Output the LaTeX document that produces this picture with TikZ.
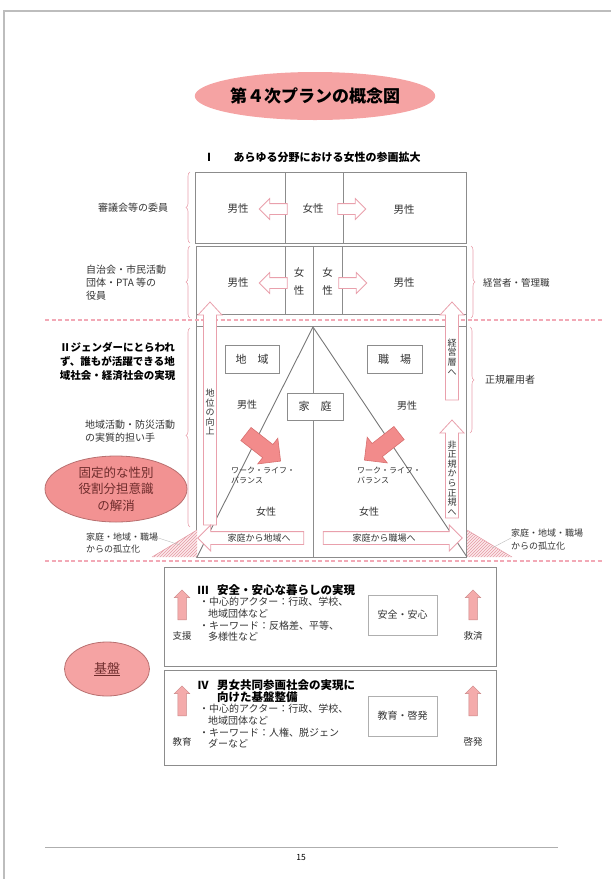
\documentclass[tikz,border=0pt]{standalone}
\usepackage{fontspec}
\setmainfont{Noto Sans CJK JP}
\usetikzlibrary{shapes.geometric,shapes.arrows,decorations.pathreplacing,patterns}
\definecolor{framegray}{HTML}{8C8C8C}
\definecolor{pagegray}{HTML}{BDBDBD}
\definecolor{pinkline}{HTML}{E9A0AC}
\definecolor{dashpink}{HTML}{F2A9B6}
\definecolor{bigpink}{HTML}{F28B8B}
\definecolor{bigedge}{HTML}{D87070}
\definecolor{titlepink}{HTML}{F5A3A3}
\definecolor{ellpink}{HTML}{F29292}
\definecolor{elledge}{HTML}{B87070}
\definecolor{hatchpink}{HTML}{E49AA4}
\definecolor{hatchfill}{HTML}{FCE9EB}
\definecolor{smallpink}{HTML}{F4ABAB}
\definecolor{smalledge}{HTML}{C98585}
\definecolor{txtgray}{HTML}{333333}
\definecolor{maroon}{HTML}{6E2C2C}
\newcommand\fsz[2]{\fontsize{#1}{#2}\selectfont}
\begin{document}
\begin{tikzpicture}[x=1pt,y=-1pt,
  frameline/.style={draw=framegray,line width=0.9pt},
  lbl/.style={inner sep=0pt,text=txtgray,font=\fsz{10}{12.5}},
  boldlbl/.style={inner sep=0pt,text=black,font=\bfseries\fsz{10.5}{14}},
  vtxt/.style={inner sep=0pt,text=txtgray,align=center,font=\fsz{9}{9.6}},
  hollowarr/.style={single arrow,draw=pinkline,fill=white,line width=0.8pt,inner xsep=0pt,inner ysep=5pt,single arrow head extend=5pt,minimum width=20pt,minimum height=28pt},
  textarr/.style={single arrow,draw=pinkline,fill=white,line width=0.8pt,inner xsep=0pt,inner ysep=6pt,single arrow head extend=6.5pt,minimum width=25pt},
  vertarr/.style={draw=pinkline,fill=white,line width=0.8pt},
  bigarr/.style={single arrow,fill=bigpink,draw=bigedge,line width=0.6pt,inner xsep=0pt,inner ysep=8pt,single arrow head extend=8pt,minimum width=32pt,minimum height=44pt},
  uparr/.style={single arrow,fill=smallpink,draw=smalledge,line width=0.5pt,inner xsep=0pt,inner ysep=4pt,single arrow head extend=3.5pt,minimum width=15pt,minimum height=30pt,rotate=90},
  dashsep/.style={draw=dashpink,line width=1.6pt,dash pattern=on 4pt off 2.5pt},
  pbrace/.style={draw=pinkline,line width=0.6pt,decorate,decoration={brace,amplitude=4pt}},
  txtbox/.style={draw=framegray,fill=white,line width=0.7pt,text=txtgray,inner sep=0pt},
  ellbox/.style={ellipse,fill=ellpink,draw=elledge,line width=0.8pt,text=maroon,align=center,inner sep=0pt}
]
\useasboundingbox (0,0) rectangle (611,879);
% page border
\draw[pagegray,line width=2pt] (4,879) -- (4,11) -- (611,11);
% title
\node[ellipse,fill=titlepink,minimum width=228pt,minimum height=48pt,inner sep=0pt,font=\bfseries\fsz{17}{17}] (title) at (315,96) {第４次プランの概念図};
\node[boldlbl,font=\bfseries\fsz{11}{11}] (n1) at (209,157) {Ⅰ};
\node[boldlbl,font=\bfseries\fsz{11}{11}] (sub1) at (327,157) {あらゆる分野における女性の参画拡大};
% box 1
\draw[frameline] (195,172) rectangle (466,243);
\draw[frameline] (285,172) -- (285,243) (343,172) -- (343,243);
% box 2 and region II frame
\draw[frameline] (196,246) -- (466,246) (196,246) -- (196,557) -- (466,557) -- (466,246);
\draw[frameline] (196,314) -- (466,314) (196,326) -- (466,326);
\draw[frameline] (285,246) -- (285,314) (313,246) -- (313,314) (342,246) -- (342,314);
% dashed separators
\draw[dashsep] (45,320) -- (602,320);
\draw[dashsep] (45,561) -- (602,561);
% braces
\draw[pbrace] (190,243) -- (190,172);
\draw[pbrace] (190,318) -- (190,246);
\draw[pbrace] (471,246) -- (471,318);
\draw[pinkline,line width=0.6pt,decorate,decoration={brace,amplitude=4pt,aspect=0.46}] (190,527) -- (190,328);
\draw[pbrace] (470,327) -- (470,433);
% hatched triangles
\fill[hatchfill] (152,557) -- (197,557) -- (197,530) -- cycle;
\fill[pattern=north east lines,pattern color=hatchpink] (152,557) -- (197,557) -- (197,530) -- cycle;
\draw[hatchpink,line width=0.5pt] (152,557) -- (197,530);
\fill[hatchfill] (467,530) -- (467,557) -- (512,557) -- cycle;
\fill[pattern=north east lines,pattern color=hatchpink] (467,530) -- (467,557) -- (512,557) -- cycle;
\draw[hatchpink,line width=0.5pt] (467,530) -- (512,557);
% triangle and centre line
\coordinate (apex) at (313,327);
\coordinate (bl) at (197,557);
\coordinate (br) at (467,557);
\coordinate (bc) at (313,557);
\draw[draw=framegray!85!black,line width=0.9pt] (bl) -- (apex) -- (br);
\draw[frameline] (apex) -- (bc);
% box1 texts and arrows
\node[lbl,font=\fsz{10.5}{12}] (m1) at (238,209) {男性};
\node[lbl,font=\fsz{10.5}{12}] (w1) at (313,209) {女性};
\node[lbl,font=\fsz{10.5}{12}] (m2) at (404,210) {男性};
\node[hollowarr,rotate=180] (a1) at (276,209) {};
\node[hollowarr] (a2) at (349,209) {};
% box2 texts and arrows
\node[lbl,font=\fsz{10.5}{12}] (m3) at (238,283) {男性};
\node[lbl,font=\fsz{10.5}{12}] (m4) at (404,283) {男性};
\node[vtxt,font=\fsz{10.5}{18}] (w2) at (299,281) {女\\性};
\node[vtxt,font=\fsz{10.5}{18}] (w3) at (327.5,281) {女\\性};
\node[hollowarr,rotate=180] (a3) at (276,283) {};
\node[hollowarr] (a4) at (350,283) {};
% vertical hollow arrows
\draw[vertarr] (203.5,525) -- (203.5,315) -- (198,315) -- (210,302) -- (222,315) -- (216.5,315) -- (216.5,525) -- cycle;
\draw[vertarr] (445.5,400) -- (445.5,315) -- (440,315) -- (452,302) -- (464,315) -- (458.5,315) -- (458.5,400) -- cycle;
\draw[vertarr] (445.5,518) -- (445.5,433) -- (440,433) -- (452,420) -- (464,433) -- (458.5,433) -- (458.5,518) -- cycle;
\node[vtxt] (v1) at (210,412) {地\\位\\の\\向\\上};
\node[vtxt] (v2) at (452,357) {経\\営\\層\\へ};
\node[vtxt] (v3) at (452,478) {非\\正\\規\\か\\ら\\正\\規\\へ};
% inner boxes
\node[txtbox,minimum width=54pt,minimum height=28pt,font=\fsz{11}{12}] (chiiki) at (252,359) {地　域};
\node[txtbox,minimum width=55pt,minimum height=28pt,font=\fsz{11}{12}] (shokuba) at (394.5,359) {職　場};
\node[txtbox,minimum width=56pt,minimum height=27pt,font=\fsz{11}{12}] (katei) at (315,406.5) {家　庭};
\node[lbl,font=\fsz{10}{12}] (m5) at (247,405) {男性};
\node[lbl,font=\fsz{10}{12}] (m6) at (407,406) {男性};
% big arrows
\node[bigarr,rotate=-38] (ba1) at (260,445) {};
\node[bigarr,rotate=-142] (ba2) at (385,444) {};
% work life balance
\node[lbl,anchor=west,align=left,font=\fsz{8}{10}] (wlb1) at (231,475) {ワーク・ライフ・\\バランス};
\node[lbl,anchor=west,align=left,font=\fsz{8}{10}] (wlb2) at (357,475) {ワーク・ライフ・\\バランス};
\node[lbl,font=\fsz{10}{12}] (w4) at (266,512) {女性};
\node[lbl,font=\fsz{10}{12}] (w5) at (369,512) {女性};
% horizontal text arrows
\node[textarr,rotate=180,minimum height=106pt] (ta1) at (254,538) {};
\node[textarr,minimum height=139pt] (ta2) at (389.5,538) {};
\node[lbl,font=\fsz{9}{10}] (t1) at (259,538) {家庭から地域へ};
\node[lbl,font=\fsz{9}{10}] (t2) at (384,538) {家庭から職場へ};
% left labels
\node[lbl] (l1) at (133,208) {審議会等の委員};
\node[lbl,anchor=west,align=left,font=\fsz{10}{13}] (l2) at (86,283) {自治会・市民活動\\団体・PTA 等の\\役員};
\node[boldlbl,align=center] (l3) at (117.5,361) {Ⅱジェンダーにとらわれ\\ず、誰もが活躍できる地\\域社会・経済社会の実現};
\node[lbl,anchor=west,align=left,font=\fsz{10}{13}] (l4) at (85,431) {地域活動・防災活動\\の実質的担い手};
\node[ellbox,minimum width=142pt,minimum height=66pt,font=\fsz{12.5}{16.5}] (kotei) at (116,489) {固定的な性別\\役割分担意識\\の解消};
\node[lbl,anchor=west,align=left,font=\fsz{9}{12}] (l5) at (86,543) {家庭・地域・職場\\からの孤立化};
\draw[framegray!60,line width=0.4pt] (l5.east) ++(0,-5) -- (180,545);
% right labels
\node[lbl,anchor=west,font=\fsz{9.5}{12}] (r1) at (483,283) {経営者・管理職};
\node[lbl,anchor=west] (r2) at (485,380) {正規雇用者};
\node[lbl,anchor=west,align=left,font=\fsz{9}{13}] (r3) at (511,540) {家庭・地域・職場\\からの孤立化};
\draw[framegray!60,line width=0.4pt] (r3.west) ++(0,-2) -- (492,548);
% region III
\draw[frameline] (164,567) rectangle (496,666);
\node[uparr] (u1) at (182,607) {};
\node[lbl,font=\fsz{9.5}{11}] (sien) at (182,636) {支援};
\node[boldlbl,font=\bfseries\fsz{11}{12}] (n3) at (203,590) {Ⅲ};
\node[boldlbl,anchor=west,font=\bfseries\fsz{11.5}{12}] (h3) at (217,590) {安全・安心な暮らしの実現};
\node[lbl,anchor=north west,align=left,font=\fsz{10}{11.7}] (b3) at (199,597) {・中心的アクター：行政、学校、\\\hspace*{9pt}地域団体など\\・キーワード：反格差、平等、\\\hspace*{9pt}多様性など};
\node[txtbox,draw=framegray!70,minimum width=69pt,minimum height=40pt,font=\fsz{10}{12}] (anzen) at (402.5,615) {安全・安心};
\node[uparr] (u2) at (473,607) {};
\node[lbl,font=\fsz{9.5}{11}] (kyusai) at (473,636) {救済};
% region IV
\draw[frameline] (164,670) rectangle (496,765);
\node[uparr] (u3) at (182,703) {};
\node[lbl,font=\fsz{9.5}{11}] (kyoiku) at (182,742) {教育};
\node[boldlbl,font=\bfseries\fsz{11}{12}] (n4) at (203,685) {Ⅳ};
\node[boldlbl,anchor=west,align=left,font=\bfseries\fsz{11.5}{12.5}] (h4) at (217,691) {男女共同参画社会の実現に\\向けた基盤整備};
\node[lbl,anchor=north west,align=left,font=\fsz{10}{11.7}] (b4) at (199,704) {・中心的アクター：行政、学校、\\\hspace*{9pt}地域団体など\\・キーワード：人権、脱ジェン\\\hspace*{9pt}ダーなど};
\node[txtbox,draw=framegray!70,minimum width=69pt,minimum height=40pt,font=\fsz{10}{12}] (keihatu) at (402.5,716) {教育・啓発};
\node[uparr] (u4) at (473,703) {};
\node[lbl,font=\fsz{9.5}{11}] (keihatu2) at (473,742) {啓発};
% kiban ellipse
\node[ellbox,fill=titlepink,minimum width=85pt,minimum height=54pt,font=\fsz{13}{14}] (kiban) at (107,669) {\underline{基盤}};
% footer
\draw[framegray!70,line width=0.8pt] (45,847) -- (558,847);
\node[inner sep=0pt,font=\fsz{8.5}{10}] (pg) at (301,858) {15};
\end{tikzpicture}
\end{document}
